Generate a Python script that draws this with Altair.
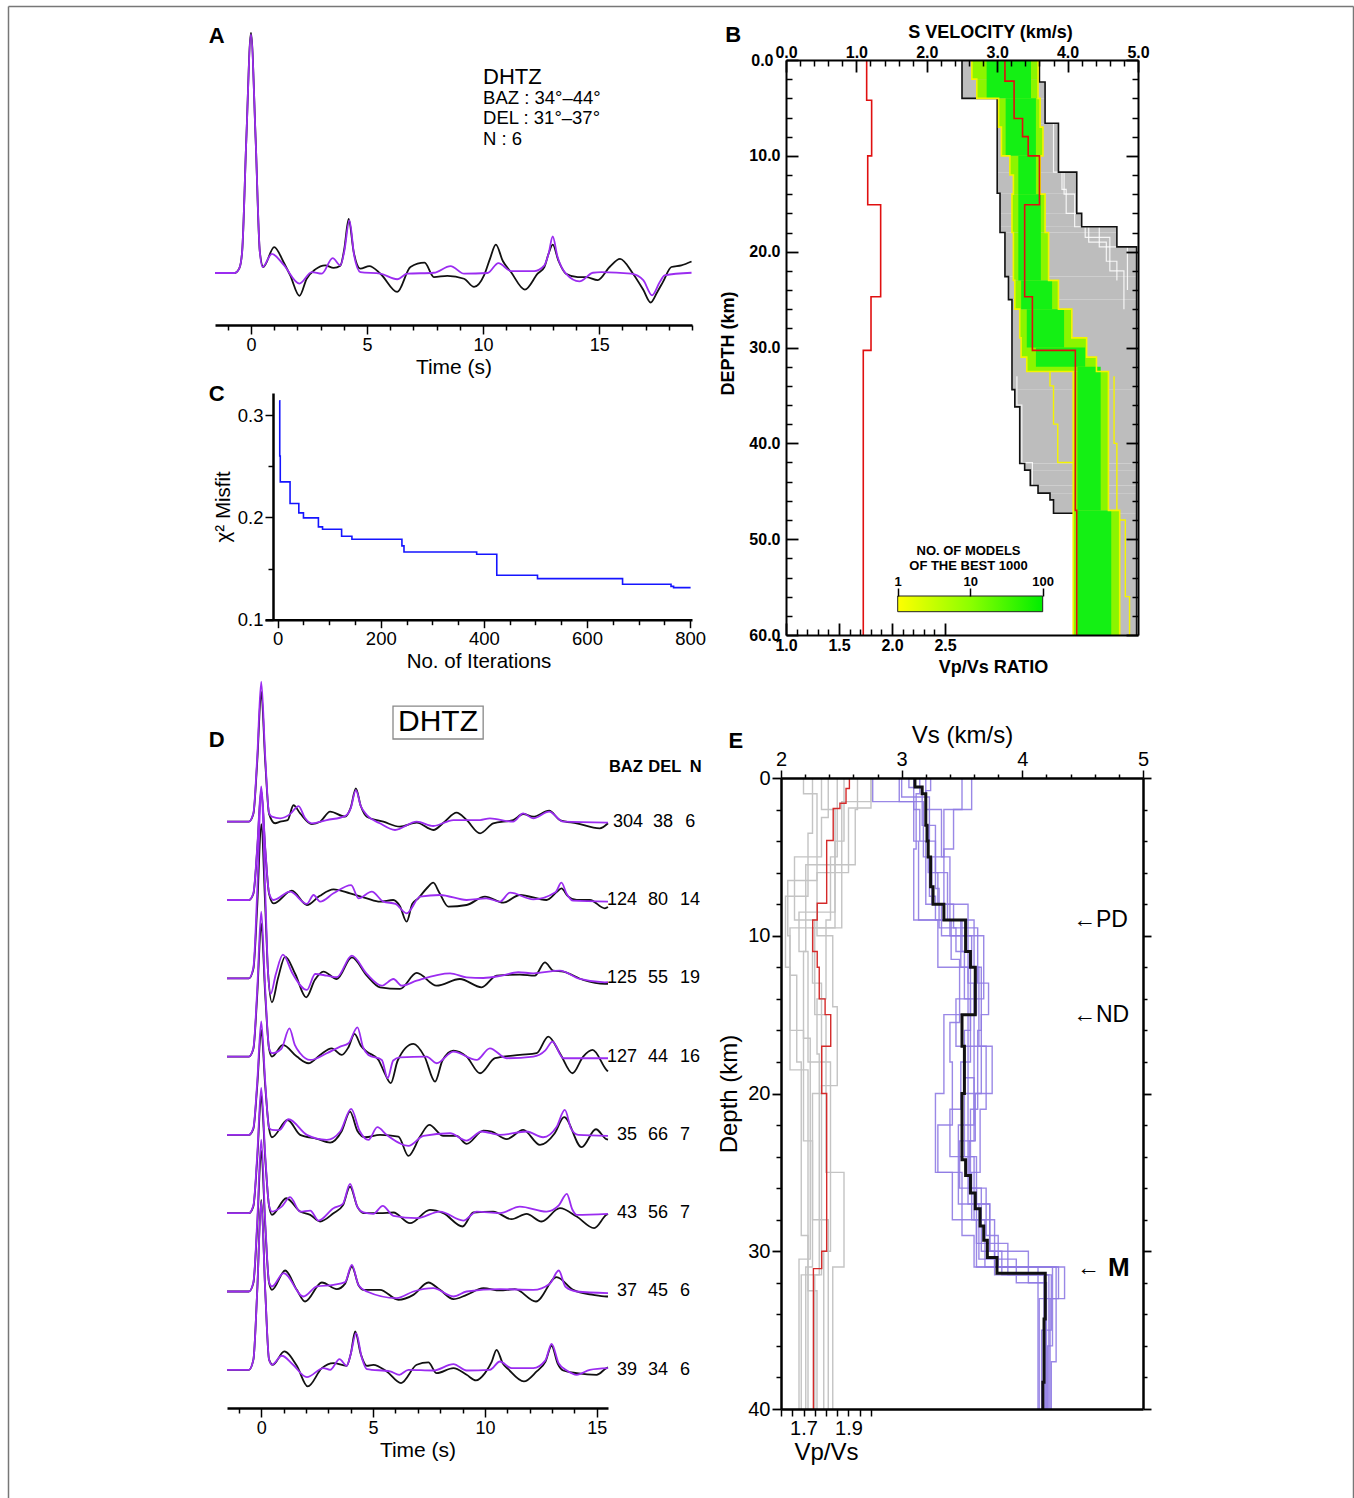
import altair as alt
import pandas as pd

FONT = "Liberation Sans"
W, H = 1345, 1492


def px(x):
    return x - 8


def py(y):
    return y - 6


def sc(dom, r0, r1, horiz=True, typ=None):
    rng = [px(r0), px(r1)] if horiz else [py(r0), py(r1)]
    if typ:
        return alt.Scale(type=typ, domain=dom, range=rng, nice=False)
    return alt.Scale(domain=dom, range=rng, nice=False, zero=False)


# ---------------- scales (panel placement) ----------------
A_X = sc([-1.55, 19.0], 215, 692)
A_Y = sc([-0.2167, 1.0333], 325, 25, False)
C_X = sc([-24.6, 803.7], 265, 692)
C_Y = sc([0.1, 0.3215], 619.7, 393, False)
B_V = sc([0, 5], 786, 1138)
B_R = sc([1.0, 4.3208], 786, 1138)
B_RA = sc([1.0, 2.5], 786, 945)
B_D = sc([0, 60], 60, 635, False)
CB_X = sc([1, 100], 897.7, 1042.7, typ="log")
CB_Y = sc([0, 1], 611.7, 596, False)
D_X = sc([-1.53, 15.5], 227, 608)
D_Y = sc([-7.488, 2.065], 1408, 660, False)
E_V = sc([2, 5], 781, 1143)
E_R = sc([1.6, 3.2089], 781, 1143)
E_RA = sc([1.6, 2.0], 781, 871)
E_D = sc([0, 40], 778, 1409, False)
F_X = sc([0, 1], 8, 1353)
F_Y = sc([0, 1], 6, 1498, False)

# ---------------- data ----------------
# Panel A: stacked receiver function (time s, amplitude)
A_OBS = [(-1.55, 0), (-0.7, 0), (-0.5, 0.02), (-0.38, 0.09), (-0.2, 0.56), (0, 1.0), (0.2, 0.56), (0.38, 0.09),
         (0.53, 0.025), (1.0, 0.108), (1.4, 0.046), (1.69, -0.01), (2.09, -0.095), (2.4, -0.024), (2.77, 0.015),
         (3.2, 0.032), (3.56, 0.021), (3.85, 0.03), (4.02, 0.1), (4.21, 0.225), (4.42, 0.09), (4.71, 0.018),
         (5.1, 0.029), (5.58, -0.003), (6.3, -0.079), (6.87, 0.025), (7.48, 0.043), (7.88, -0.017), (8.46, -0.012),
         (9.18, -0.024), (9.61, -0.058), (10.04, -0.01), (10.3, 0.06), (10.55, 0.118), (10.85, 0.05), (11.2, 0.004),
         (11.8, -0.069), (12.35, -0.003), (12.64, 0.025), (12.82, 0.08), (13.0, 0.118), (13.25, 0.05), (13.57, -0.003),
         (14.08, -0.017), (14.44, -0.017), (14.94, -0.03), (15.45, 0.025), (15.9, 0.059), (16.46, -0.003),
         (16.9, -0.07), (17.22, -0.123), (17.5, -0.08), (17.75, -0.037), (18.11, 0.025), (18.54, 0.032), (18.98, 0.048)]
A_SYN = [(-1.55, 0), (-0.7, 0), (-0.5, 0.02), (-0.38, 0.09), (-0.2, 0.56), (0, 0.993), (0.2, 0.56), (0.38, 0.09),
         (0.5, 0.025), (0.9, 0.08), (1.4, 0.035), (2.09, -0.044), (2.62, 0.004), (3.05, -0.003), (3.52, 0.062),
         (3.85, 0.032), (4.02, 0.09), (4.24, 0.219), (4.45, 0.07), (4.71, 0.004), (5.58, -0.003), (6.3, -0.026),
         (6.73, -0.003), (7.88, 0.001), (8.6, 0.029), (9.18, -0.003), (10.19, 0), (10.66, 0.041), (11.2, 0.008),
         (12.2, 0.008), (12.64, 0.032), (12.82, 0.08), (13.0, 0.152), (13.2, 0.07), (13.57, -0.003), (14.15, -0.035),
         (14.73, 0.001), (15.09, 0.004), (16.38, -0.003), (16.9, -0.03), (17.28, -0.093), (17.6, -0.04),
         (17.82, -0.01), (18.98, 0.001)]
A_INFO = ["DHTZ", "BAZ : 34°–44°", "DEL : 31°–37°", "N : 6"]
A_INFO_Y = [0.817, 0.729, 0.646, 0.558]
A_INFO_FS = [22, 18.5, 18.5, 18.5]

# Panel C: misfit vs iteration
C_ITER = [3, 4, 5, 24, 41, 50, 79, 87, 124, 144, 241, 245, 386, 425, 504, 669, 763, 768, 801]
C_MISFIT = [0.314, 0.26, 0.2347, 0.2135, 0.2044, 0.1995, 0.1907, 0.1884, 0.1815, 0.1786, 0.1721, 0.1662,
            0.1639, 0.1434, 0.1401, 0.1346, 0.1326, 0.1313, 0.1313]

# Panel B: model ensemble (depth top, depth bottom, vmin, vmax)
B_GRAY = [(0, 2.3, 2.50, 3.60), (2.3, 4, 2.50, 3.68), (4, 6.6, 3.00, 3.68), (6.6, 11.7, 3.00, 3.87),
          (11.7, 13.9, 3.00, 4.13), (13.9, 16, 3.04, 4.13), (16, 17.4, 3.04, 4.20), (17.4, 18, 3.04, 4.70),
          (18, 19.5, 3.11, 4.70), (19.5, 22.6, 3.11, 4.98), (22.6, 25, 3.16, 4.98), (25, 34.4, 3.21, 4.98),
          (34.4, 36.2, 3.25, 4.98), (36.2, 42.1, 3.32, 4.98), (42.1, 42.8, 3.39, 4.98), (42.8, 44.4, 3.47, 4.98),
          (44.4, 45.2, 3.58, 4.98), (45.2, 45.9, 3.75, 4.98), (45.9, 47.3, 3.80, 4.98), (47.3, 60, 4.08, 4.98)]
B_GRAY_LEFT = [(0, 4, 2.50), (4, 13.9, 3.00), (13.9, 18, 3.04), (18, 22.6, 3.11), (22.6, 25, 3.16),
               (25, 34.4, 3.21), (34.4, 36.2, 3.25), (36.2, 42.1, 3.32), (42.1, 42.8, 3.39), (42.8, 44.4, 3.47),
               (44.4, 45.2, 3.58), (45.2, 45.9, 3.75), (45.9, 47.3, 3.80), (47.3, 47.3, 4.08)]
B_GRAY_RIGHT = [(0, 2.3, 3.60), (2.3, 6.6, 3.68), (6.6, 11.7, 3.87), (11.7, 16, 4.13), (16, 17.4, 4.20),
                (17.4, 19.5, 4.70), (19.5, 60, 4.98)]
# white model edges seen inside the grey envelope
B_WHITE = [
    [(6.6, 11.7, 3.80), (11.7, 14, 3.95), (14, 17.4, 4.10), (17.4, 19.5, 4.45), (19.5, 24, 4.85)],
    [(11.7, 13.5, 3.92), (13.5, 16, 3.98), (16, 18.5, 4.25), (18.5, 22, 4.60), (22, 26, 4.80)],
    [(17.4, 19, 4.30), (19, 21, 4.55), (21, 23, 4.70)],
    [(33, 36, 3.28), (36, 42, 3.35), (42, 46, 3.50), (46, 47.3, 3.60)],
]
B_BAND = [(0, 2, 2.64, 3.58), (2, 4, 2.71, 3.58), (4, 7, 3.02, 3.61), (7, 10, 3.06, 3.65), (10, 12, 3.18, 3.61),
          (12, 14, 3.23, 3.61), (14, 18, 3.21, 3.68), (18, 23, 3.23, 3.73), (23, 26, 3.25, 3.87),
          (26, 29, 3.32, 4.06), (29, 31, 3.34, 4.27), (31, 32.5, 3.42, 4.41), (32.5, 47, 4.08, 4.58),
          (47, 60, 4.08, 4.74)]
B_CORE = [(0, 4, 2.85, 3.48), (4, 10, 3.12, 3.55), (10, 14, 3.30, 3.55), (14, 23, 3.30, 3.62),
          (23, 26, 3.34, 3.78), (26, 30, 3.42, 3.95), (30, 32, 3.55, 4.25), (32, 47, 4.14, 4.47),
          (47, 60, 4.14, 4.62)]
B_YELLOW_EXTRA = [
    [(31.5, 34, 3.75), (34, 38, 3.80), (38, 42, 3.86), (42, 42, 4.08)],
    [(33, 40, 4.66), (40, 48, 4.70), (48, 56, 4.82), (56, 60, 4.88)],
]
B_BEST_VS = [(0, 2.2, 3.11), (2.2, 6.1, 3.24), (6.1, 8.0, 3.36), (8.0, 10.0, 3.44), (10.0, 15.1, 3.60),
             (15.1, 24.7, 3.39), (24.7, 30.3, 3.50), (30.3, 47, 4.11), (47, 60, 4.13)]
B_BEST_VPVS = [(0, 4.2, 1.761), (4.2, 10, 1.808), (10, 15.1, 1.771), (15.1, 24.7, 1.893), (24.7, 30.3, 1.802),
               (30.3, 60, 1.729)]
CB_TICKS = [1, 10, 100]

# Panel D: individual bins (time s, amplitude in trace-spacing units)
D_BAZ = ["304", "124", "125", "127", "35", "43", "37", "39"]
D_DEL = ["38", "80", "55", "44", "66", "56", "45", "34"]
D_N = ["6", "14", "19", "16", "7", "7", "6", "6"]
D_BAZ_T = [17.07, 16.80, 16.80, 16.80, 16.80, 16.80, 16.80, 16.80]
D_DEL_T = [17.96, 17.74, 17.74, 17.74, 17.74, 17.74, 17.74, 17.74]
D_N_T = [18.95, 18.72, 18.72, 18.72, 18.72, 18.72, 18.72, 18.72]
D_OBS = [
    [(-1.53, 0), (-0.55, 0), (-0.35, 0.10), (-0.18, 0.76), (0, 1.66), (0.18, 0.76), (0.35, 0.10), (0.62, -0.02),
     (0.85, 0.0), (1.18, 0.02), (1.44, 0.21), (1.74, 0.106), (2.26, -0.03), (2.63, 0.0), (3.08, 0.128),
     (3.75, 0.064), (4.0, 0.18), (4.23, 0.426), (4.45, 0.2), (4.72, 0.064), (5.46, 0.0), (6.2, -0.064),
     (6.95, -0.013), (7.69, -0.106), (8.2, 0.0), (8.73, 0.115), (9.18, 0.021), (9.78, -0.149), (10.37, -0.021),
     (11.26, 0.021), (11.71, 0.098), (12.16, 0.064), (12.87, 0.14), (13.35, 0.021), (14.1, -0.021),
     (15.13, -0.085), (15.5, -0.02)],
    [(-1.53, 0), (-0.55, 0), (-0.35, 0.08), (-0.18, 0.64), (0, 1.40), (0.18, 0.64), (0.35, 0.08), (0.55, -0.043),
     (1.37, 0.119), (2.04, -0.064), (2.6, 0.05), (3.23, 0.136), (3.97, 0.085), (4.72, 0.021), (5.31, -0.021),
     (5.9, 0.0), (6.2, -0.08), (6.5, -0.277), (6.75, -0.05), (7.02, 0.021), (7.4, 0.15), (7.69, 0.221),
     (7.95, 0.1), (8.36, -0.085), (9.18, -0.064), (10.0, 0.043), (10.82, -0.034), (11.56, 0.064), (12.75, 0.0),
     (13.2, 0.1), (13.42, 0.149), (13.7, 0.05), (14.1, 0.0), (14.69, 0.0), (15.36, -0.106), (15.5, -0.09)],
    [(-1.53, 0), (-0.55, 0), (-0.35, 0.12), (-0.18, 0.91), (0, 1.97), (0.18, 0.91), (0.3, 0.1), (0.48, -0.306),
     (0.75, 0.0), (1.07, 0.277), (1.52, 0.055), (2.01, -0.243), (2.4, -0.02), (2.78, 0.085), (3.38, -0.009),
     (4.05, 0.268), (4.72, 0.034), (5.31, -0.115), (6.2, -0.136), (6.95, 0.068), (7.84, -0.094), (8.88, -0.009),
     (9.85, -0.115), (10.52, 0.034), (11.56, 0.047), (12.23, 0.034), (12.68, 0.204), (13.05, 0.098),
     (13.5, 0.085), (14.39, -0.021), (15.36, -0.072), (15.5, -0.07)],
    [(-1.53, 0), (-0.55, 0), (-0.35, 0.10), (-0.18, 0.78), (0, 1.70), (0.18, 0.78), (0.35, 0.10), (0.48, 0.0),
     (0.97, 0.149), (1.59, 0.0), (2.11, -0.085), (2.63, 0.021), (3.15, 0.106), (3.6, 0.021), (3.9, 0.12),
     (4.17, 0.289), (4.45, 0.14), (4.72, 0.064), (5.24, -0.043), (5.5, -0.2), (5.79, -0.34), (6.1, -0.05),
     (6.8, 0.162), (7.3, 0.0), (7.77, -0.32), (8.1, -0.05), (8.59, 0.077), (9.18, 0.0), (9.78, -0.213),
     (10.45, -0.021), (11.56, 0.021), (12.31, 0.043), (12.83, 0.255), (13.35, 0.043), (13.91, -0.213),
     (14.39, 0.0), (14.81, 0.085), (15.43, -0.17), (15.5, -0.19)],
    [(-1.53, 0), (-0.55, 0), (-0.35, 0.08), (-0.18, 0.62), (0, 1.34), (0.18, 0.62), (0.35, 0.08), (0.48, -0.03),
     (1.18, 0.19), (1.74, 0.0), (2.49, -0.05), (3.08, -0.098), (3.6, 0.05), (3.97, 0.298), (4.3, 0.05),
     (4.64, -0.03), (5.31, 0.0), (6.13, -0.021), (6.58, -0.268), (7.1, -0.021), (7.51, 0.128), (8.14, -0.013),
     (8.73, -0.013), (9.18, -0.115), (9.93, 0.055), (10.3, 0.043), (10.97, -0.055), (11.71, 0.064),
     (12.46, -0.128), (13.12, 0.021), (13.54, 0.226), (14.32, -0.157), (14.96, 0.072), (15.43, -0.055),
     (15.5, -0.06)],
    [(-1.53, 0), (-0.55, 0), (-0.35, 0.09), (-0.18, 0.69), (0, 1.50), (0.18, 0.69), (0.35, 0.09), (0.48, -0.021),
     (1.12, 0.191), (1.74, 0.021), (2.19, -0.021), (2.63, -0.106), (3.23, 0.0), (3.65, 0.1), (3.97, 0.34),
     (4.3, 0.08), (4.57, 0.0), (5.31, 0.0), (5.91, 0.009), (6.65, -0.128), (7.54, 0.043), (8.14, 0.0),
     (9.0, -0.17), (9.48, 0.009), (10.37, 0.021), (11.19, -0.077), (11.86, -0.009), (12.53, -0.106),
     (13.35, 0.064), (14.1, -0.043), (14.88, -0.191), (15.43, -0.021), (15.5, -0.01)],
    [(-1.53, 0), (-0.55, 0), (-0.35, 0.11), (-0.18, 0.83), (0, 1.80), (0.18, 0.83), (0.35, 0.11), (0.48, 0.021),
     (1.07, 0.268), (1.59, 0.021), (1.96, -0.128), (2.71, 0.115), (3.38, 0.03), (3.75, 0.1), (4.05, 0.319),
     (4.35, 0.08), (4.57, 0.021), (5.31, 0.021), (6.13, -0.106), (6.8, -0.043), (7.47, 0.115), (7.99, 0.021),
     (8.59, -0.098), (9.18, -0.043), (9.93, 0.043), (10.67, 0.013), (11.34, 0.03), (12.28, -0.128),
     (13.2, 0.183), (13.94, 0.021), (14.84, -0.043), (15.43, -0.064), (15.5, -0.064)],
    [(-1.53, 0), (-0.55, 0), (-0.35, 0.13), (-0.18, 1.00), (0, 2.17), (0.18, 1.00), (0.35, 0.13), (0.52, 0.064),
     (1.03, 0.234), (1.59, 0.051), (2.08, -0.213), (2.71, 0.021), (3.23, 0.085), (3.82, 0.051), (4.0, 0.2),
     (4.2, 0.489), (4.45, 0.2), (4.72, 0.051), (5.01, 0.064), (5.61, -0.021), (6.25, -0.17), (6.95, 0.064),
     (7.47, 0.094), (7.84, -0.043), (8.59, 0.021), (9.18, -0.064), (9.6, -0.136), (10.0, -0.043), (10.3, 0.1),
     (10.52, 0.255), (10.8, 0.08), (11.04, 0.009), (11.74, -0.149), (12.31, -0.021), (12.7, 0.1),
     (12.98, 0.306), (13.25, 0.08), (13.5, -0.009), (14.1, -0.043), (14.99, -0.064), (15.43, 0.021),
     (15.5, 0.03)],
]
D_SYN = [
    [(-1.53, 0), (-0.55, 0), (-0.35, 0.11), (-0.18, 0.82), (0, 1.79), (0.18, 0.82), (0.35, 0.11), (0.48, 0.064),
     (0.85, 0.043), (1.3, 0.1), (1.67, 0.2), (1.95, 0.05), (2.26, -0.021), (2.93, 0.021), (3.75, 0.072),
     (4.0, 0.17), (4.23, 0.404), (4.45, 0.2), (4.72, 0.085), (5.3, -0.02), (5.98, -0.106), (6.95, 0.0),
     (7.69, -0.055), (8.59, 0.021), (9.78, 0.021), (10.22, 0.043), (11.26, 0.0), (11.71, 0.106), (12.16, 0.043),
     (12.87, 0.128), (13.5, 0.0), (15.5, -0.013)],
    [(-1.53, 0), (-0.55, 0), (-0.35, 0.09), (-0.18, 0.67), (0, 1.45), (0.18, 0.67), (0.35, 0.09), (0.55, 0.0),
     (1.29, 0.106), (2.04, -0.05), (2.34, 0.064), (2.63, -0.021), (3.23, 0.085), (4.02, 0.191), (4.35, 0.021),
     (4.94, 0.106), (5.46, -0.021), (6.0, -0.05), (6.5, -0.17), (7.1, 0.043), (7.99, 0.064), (9.18, 0.0),
     (10.07, 0.021), (10.67, -0.021), (11.12, 0.094), (12.16, 0.009), (13.15, 0.1), (13.42, 0.221),
     (13.65, 0.08), (13.94, -0.009), (15.5, -0.021)],
    [(-1.53, 0), (-0.55, 0), (-0.35, 0.14), (-0.18, 1.10), (0, 2.40), (0.18, 1.10), (0.3, 0.1), (0.42, -0.2),
     (0.65, 0.05), (0.97, 0.302), (1.4, 0.06), (2.04, -0.149), (2.41, 0.055), (2.93, 0.034), (3.38, 0.013),
     (4.05, 0.289), (4.72, 0.055), (5.39, -0.094), (5.91, -0.009), (6.28, -0.094), (6.95, -0.03), (8.44, 0.064),
     (9.18, 0.013), (9.93, 0.004), (10.74, 0.034), (11.49, 0.077), (12.16, 0.064), (13.35, 0.098),
     (14.24, -0.009), (15.36, -0.051), (15.5, -0.05)],
    [(-1.53, 0), (-0.55, 0), (-0.35, 0.11), (-0.18, 0.85), (0, 1.85), (0.18, 0.85), (0.35, 0.11), (0.48, 0.043),
     (0.9, 0.1), (1.26, 0.36), (1.5, 0.15), (1.74, 0.043), (2.19, -0.043), (2.93, 0.043), (3.53, 0.128),
     (3.9, 0.17), (4.3, 0.374), (4.55, 0.12), (4.79, 0.021), (5.39, -0.043), (5.65, -0.277), (5.9, -0.05),
     (6.2, -0.009), (7.39, 0.0), (7.84, -0.085), (8.59, 0.064), (9.63, -0.043), (10.22, 0.106), (10.97, -0.021),
     (12.16, 0.0), (12.7, 0.08), (13.02, 0.191), (13.5, -0.021), (14.39, -0.021), (15.5, -0.021)],
    [(-1.53, 0), (-0.55, 0), (-0.35, 0.09), (-0.18, 0.67), (0, 1.45), (0.18, 0.67), (0.35, 0.09), (0.48, 0.064),
     (0.8, 0.06), (1.22, 0.2), (2.04, 0.0), (2.93, -0.064), (3.53, 0.043), (4.02, 0.332), (4.4, 0.05),
     (4.79, -0.064), (5.19, 0.098), (5.61, 0.0), (6.58, -0.14), (7.25, -0.013), (8.44, 0.021), (9.18, -0.072),
     (9.85, 0.043), (10.67, 0.0), (11.86, 0.043), (12.6, -0.03), (13.2, 0.1), (13.57, 0.319), (13.85, 0.08),
     (14.17, 0.0), (15.5, -0.013)],
    [(-1.53, 0), (-0.55, 0), (-0.35, 0.10), (-0.18, 0.74), (0, 1.60), (0.18, 0.74), (0.35, 0.10), (0.48, 0.021),
     (0.9, 0.08), (1.29, 0.204), (1.74, 0.021), (2.19, 0.034), (2.56, -0.094), (3.23, 0.064), (3.65, 0.12),
     (3.97, 0.374), (4.3, 0.08), (4.57, 0.009), (5.01, -0.009), (5.43, 0.094), (5.91, -0.034), (6.95, -0.064),
     (7.99, 0.021), (9.03, -0.094), (9.63, 0.021), (10.67, 0.0), (11.56, 0.085), (12.75, 0.021), (13.3, 0.1),
     (13.66, 0.247), (13.9, 0.05), (14.1, -0.021), (15.5, -0.009)],
    [(-1.53, 0), (-0.55, 0), (-0.35, 0.12), (-0.18, 0.89), (0, 1.94), (0.18, 0.89), (0.35, 0.12), (0.48, 0.064),
     (1.0, 0.234), (1.89, -0.064), (2.49, 0.064), (3.23, 0.085), (3.75, 0.12), (4.05, 0.34), (4.35, 0.08),
     (4.72, 0.0), (6.06, -0.085), (6.8, 0.0), (7.69, 0.043), (8.59, -0.064), (9.18, 0.0), (10.67, 0.03),
     (12.16, 0.021), (12.9, 0.1), (13.3, 0.268), (13.6, 0.06), (14.1, 0.0), (15.5, -0.021)],
    [(-1.53, 0), (-0.55, 0), (-0.35, 0.13), (-0.18, 1.00), (0, 2.15), (0.18, 1.00), (0.35, 0.13), (0.48, 0.064),
     (0.92, 0.179), (1.4, 0.07), (2.04, -0.094), (2.78, 0.021), (3.08, 0.0), (3.5, 0.136), (3.82, 0.051),
     (4.0, 0.2), (4.24, 0.468), (4.5, 0.15), (4.72, 0.009), (5.76, -0.021), (6.17, -0.064), (6.58, 0.0),
     (7.69, -0.009), (8.59, 0.072), (9.18, -0.009), (10.22, 0.0), (10.67, 0.106), (11.19, 0.021), (12.16, 0.021),
     (12.7, 0.12), (12.98, 0.332), (13.3, 0.08), (13.66, -0.009), (14.1, -0.064), (14.69, 0.0), (15.5, 0.021)],
]

# Panel E: final models (depth top, depth bottom, value)
E_BEST_VS = [(0, 0.57, 3.11), (0.57, 1.0, 3.17), (1.0, 3.0, 3.20), (3.0, 4.0, 3.21), (4.0, 5.0, 3.22),
             (5.0, 6.9, 3.24), (6.9, 8.0, 3.26), (8.0, 9.0, 3.35), (9.0, 11.0, 3.53), (11.0, 12.0, 3.57),
             (12.0, 15.0, 3.61), (15.0, 17.0, 3.50), (17.0, 20.0, 3.52), (20.0, 24.2, 3.50), (24.2, 25.2, 3.53),
             (25.2, 26.3, 3.57), (26.3, 27.3, 3.61), (27.3, 28.4, 3.65), (28.4, 29.3, 3.68), (29.3, 30.4, 3.71),
             (30.4, 31.4, 3.79), (31.4, 34.3, 4.19), (34.3, 38.3, 4.18), (38.3, 40, 4.17)]
E_BEST_VPVS = [(0, 0.67, 1.904), (0.67, 1.6, 1.889), (1.6, 1.93, 1.862), (1.93, 3.96, 1.832), (3.96, 7.94, 1.803),
               (7.94, 9.0, 1.761), (9.0, 11.0, 1.741), (11.0, 12.0, 1.761), (12.0, 14.0, 1.77), (14.0, 15.0, 1.796),
               (15.0, 17.0, 1.821), (17.0, 20.0, 1.781), (20.0, 30.0, 1.803), (30.0, 31.1, 1.781), (31.1, 40, 1.744)]
E_VPVS_MODELS = [
    [(0, 2.0, 1.94), (2.0, 5.5, 1.93), (5.5, 11.0, 1.71), (11.0, 16.5, 1.70), (16.5, 30.5, 1.73), (30.5, 40, 1.68)],
    [(0, 1.5, 2.00), (1.5, 9.5, 1.87), (9.5, 12.5, 1.64), (12.5, 18.0, 1.67), (18.0, 29.0, 1.69), (29.0, 40, 1.72)],
    [(0, 1.9, 2.00), (1.9, 6.0, 1.90), (6.0, 10.0, 1.76), (10.0, 14.5, 1.83), (14.5, 19.5, 1.85),
     (19.5, 31.5, 1.78), (31.5, 40, 1.75)],
    [(0, 3.5, 1.74), (3.5, 7.5, 1.72), (7.5, 12.0, 1.62), (12.0, 18.5, 1.64), (18.5, 32.5, 1.72), (32.5, 40, 1.76)],
    [(0, 2.5, 1.81), (2.5, 5.0, 1.78), (5.0, 9.0, 1.66), (9.0, 15.0, 1.75), (15.0, 25.0, 1.80), (25.0, 31.0, 1.88),
     (31.0, 40, 1.83)],
    [(0, 4.0, 1.88), (4.0, 8.5, 1.84), (8.5, 11.0, 1.68), (11.0, 18.0, 1.72), (18.0, 30.0, 1.82), (30.0, 40, 1.79)],
    [(0, 1.0, 1.70), (1.0, 6.5, 1.76), (6.5, 10.0, 1.63), (10.0, 16.0, 1.64), (16.0, 23.0, 1.70), (23.0, 31.0, 1.74),
     (31.0, 40, 1.71)],
    [(0, 5.0, 1.85), (5.0, 9.0, 1.82), (9.0, 14.0, 1.80), (14.0, 17.5, 1.76), (17.5, 31.5, 1.77), (31.5, 40, 1.69)],
    [(0, 2.0, 1.78), (2.0, 9.5, 1.84), (9.5, 13.0, 1.74), (13.0, 20.0, 1.78), (20.0, 28.0, 1.74), (28.0, 40, 1.81)],
]
E_VS_MODELS = [
    [(0, 2, 3.58), (2, 4.5, 3.43), (4.5, 9, 3.35), (9, 12, 3.60), (12, 16, 3.66), (16, 21, 3.63), (21, 26, 3.57),
     (26, 30, 3.66), (30, 31.5, 3.83), (31.5, 40, 4.22)],
    [(0, 1.5, 2.76), (1.5, 4, 3.10), (4, 9, 3.14), (9, 12, 3.30), (12, 15, 3.55), (15, 20, 3.35), (20, 25, 3.28),
     (25, 29, 3.50), (29, 31, 3.60), (31, 33, 4.30), (33, 40, 4.14)],
    [(0, 0.6, 3.06), (0.6, 3, 3.17), (3, 6, 3.28), (6, 8, 3.30), (8, 10, 3.55), (10, 14, 3.68), (14, 17, 3.45),
     (17, 22, 3.60), (22, 27, 3.47), (27, 30, 3.73), (30, 32, 4.05), (32, 40, 4.20)],
    [(0, 1.2, 3.00), (1.2, 4, 3.23), (4, 7, 3.28), (7, 9.5, 3.31), (9.5, 11, 3.45), (11, 16, 3.57), (16, 19, 3.52),
     (19, 24, 3.55), (24, 28, 3.60), (28, 31, 3.69), (31, 36, 4.25), (36, 40, 4.21)],
    [(0, 2, 3.20), (2, 5, 3.33), (5, 8, 3.40), (8, 9.5, 3.43), (9.5, 13, 3.63), (13, 15, 3.72), (15, 20, 3.66),
     (20, 23, 3.61), (23, 26, 3.56), (26, 29, 3.70), (29, 31, 3.80), (31, 37, 4.28), (37, 40, 4.24)],
    [(0, 1, 3.15), (1, 4.5, 3.12), (4.5, 9, 3.10), (9, 11.5, 3.41), (11.5, 15.5, 3.48), (15.5, 18, 3.40),
     (18, 22, 3.42), (22, 25, 3.30), (25, 28, 3.42), (28, 31, 3.62), (31, 40, 4.13)],
    [(0, 2, 3.50), (2, 5, 3.35), (5, 8, 3.25), (8, 10, 3.40), (10, 13, 3.55), (13, 17, 3.60), (17, 21, 3.70),
     (21, 25, 3.65), (25, 28, 3.58), (28, 31.5, 3.77), (31.5, 40, 4.18)],
    [(0, 0.8, 3.24), (0.8, 3, 3.20), (3, 6, 3.22), (6, 9, 3.38), (9, 11, 3.50), (11, 14, 3.52), (14, 18, 3.57),
     (18, 21, 3.49), (21, 24, 3.40), (24, 27, 3.55), (27, 30.5, 3.64), (30.5, 32, 3.95), (32, 40, 4.19)],
    [(0, 1.5, 2.98), (1.5, 5, 3.18), (5, 7.5, 3.23), (7.5, 9, 3.28), (9, 12, 3.49), (12, 15, 3.62), (15, 19, 3.55),
     (19, 23, 3.60), (23, 26, 3.48), (26, 29.5, 3.62), (29.5, 31.5, 3.88), (31.5, 35, 4.24), (35, 40, 4.16)],
    [(0, 2, 3.10), (2, 4, 3.15), (4, 8, 3.20), (8, 10, 3.33), (10, 12, 3.58), (12, 17, 3.64), (17, 20, 3.75),
     (20, 24, 3.52), (24, 27, 3.62), (27, 30, 3.73), (30, 31, 3.77), (31, 33, 4.35), (33, 40, 4.23)],
]
E_NOTES = ["←PD", "←ND"]
E_NOTES_D = [9.0, 15.0]

# ---------------- colours ----------------
BLK = "#111111"
PUR = "#9b2cf0"
BLUE = "#1515ff"
RED = "#e01010"

# ---------------- helpers ----------------
BASE = dict(grid=False, labelFont=FONT, titleFont=FONT, labelColor="black", titleColor="black",
            tickColor="black", domainColor="black", labelOverlap=False, labelFlush=False, zindex=3,
            title=None, titleFontWeight="normal")


def ax_layer(ch, vals, scale, **kw):
    a = dict(BASE)
    a["values"] = list(vals)
    a.update(kw)
    df = pd.DataFrame({"v": vals})
    if ch == "x":
        enc = dict(x=alt.X("v:Q", scale=scale, axis=alt.Axis(**a)), y=alt.value(0))
    else:
        enc = dict(y=alt.Y("v:Q", scale=scale, axis=alt.Axis(**a)), x=alt.value(0))
    return alt.Chart(df).mark_point(opacity=0).encode(**enc)


def ticks_only(ch, vals, scale, orient, offset, size, width=1.5):
    return ax_layer(ch, vals, scale, orient=orient, offset=offset, tickSize=size, tickWidth=width,
                    labels=False, domain=False)


def step_rows(layers, model=0):
    rows = []
    k = 0
    for (t, b, v) in layers:
        rows.append({"d": t, "v": v, "i": k, "m": model})
        rows.append({"d": b, "v": v, "i": k + 1, "m": model})
        k += 2
    return rows


def step_lines(models, xscale, yscale, color, width, opacity=1.0):
    rows = []
    for j, m in enumerate(models):
        rows += step_rows(m, j)
    df = pd.DataFrame(rows)
    return alt.Chart(df).mark_line(color=color, strokeWidth=width, opacity=opacity).encode(
        x=alt.X("v:Q", scale=xscale, axis=None),
        y=alt.Y("d:Q", scale=yscale, axis=None),
        detail="m:N", order=alt.Order("i:Q"))


def rects(table, xscale, yscale, color):
    df = pd.DataFrame(table, columns=["top", "bot", "lo", "hi"])
    return alt.Chart(df).mark_rect(color=color).encode(
        x=alt.X("lo:Q", scale=xscale, axis=None), x2="hi:Q",
        y=alt.Y("top:Q", scale=yscale, axis=None), y2="bot:Q")


def text_layer(texts, xs, ys, xscale, yscale, size, weight="normal", align="left", baseline="middle"):
    df = pd.DataFrame({"x": xs, "y": ys, "s": texts})
    return alt.Chart(df).mark_text(font=FONT, fontSize=size, fontWeight=weight, align=align,
                                   baseline=baseline, color="black").encode(
        x=alt.X("x:Q", scale=xscale, axis=None), y=alt.Y("y:Q", scale=yscale, axis=None), text="s:N")


layers = []

# ---------------- figure border ----------------
layers.append(ax_layer("y", [0, 1], F_Y, orient="left", offset=0, ticks=False, labels=False,
                       domainColor="#777777", domainWidth=1.5))
layers.append(ax_layer("x", [0, 1], F_X, orient="top", offset=0, ticks=False, labels=False,
                       domainColor="#777777", domainWidth=1.5))
layers.append(ax_layer("y", [0, 1], F_Y, orient="right", offset=0, ticks=False, labels=False,
                       domainColor="#777777", domainWidth=1.5))

# ---------------- Panel A ----------------
dfA = pd.DataFrame([{"t": t, "a": a, "k": "obs"} for t, a in A_OBS] +
                   [{"t": t, "a": a, "k": "syn"} for t, a in A_SYN])
for kind, col in [("obs", BLK), ("syn", PUR)]:
    layers.append(alt.Chart(dfA[dfA.k == kind]).mark_line(color=col, strokeWidth=1.8, interpolate="monotone")
                  .encode(x=alt.X("t:Q", scale=A_X, axis=None), y=alt.Y("a:Q", scale=A_Y, axis=None)))
layers.append(ax_layer("x", [0, 5, 10, 15], A_X, orient="bottom", offset=py(325) - H, tickSize=9, tickWidth=1.5,
                       labelFontSize=18, labelPadding=2, domainWidth=2.5, title="Time (s)", titleFontSize=21,
                       titlePadding=2))
layers.append(ticks_only("x", [-1, 1, 2, 3, 4, 6, 7, 8, 9, 11, 12, 13, 14, 16, 17, 18, 19], A_X, "bottom",
                         py(325) - H, 5))
dfAi = pd.DataFrame({"x": [10.0] * 4, "y": A_INFO_Y, "s": A_INFO, "fs": A_INFO_FS})
layers.append(alt.Chart(dfAi).mark_text(font=FONT, align="left", baseline="middle", color="black").encode(
    x=alt.X("x:Q", scale=A_X, axis=None), y=alt.Y("y:Q", scale=A_Y, axis=None), text="s:N",
    size=alt.Size("fs:Q", scale=None)))
layers.append(text_layer(["A"], [-1.48], [0.989], A_X, A_Y, 22, "bold", "center"))

# ---------------- Panel C ----------------
dfC = pd.DataFrame({"it": C_ITER, "mf": C_MISFIT})
layers.append(alt.Chart(dfC).mark_line(color=BLUE, strokeWidth=1.6, interpolate="step-after").encode(
    x=alt.X("it:Q", scale=C_X, axis=None), y=alt.Y("mf:Q", scale=C_Y, axis=None)))
layers.append(ax_layer("x", [0, 200, 400, 600, 800], C_X, orient="bottom", offset=py(619.7) - H, tickSize=8,
                       tickWidth=1.5, labelFontSize=18.5, labelPadding=2, domainWidth=2.5,
                       title="No. of Iterations", titleFontSize=20.5, titlePadding=3))
layers.append(ticks_only("x", [50, 100, 150, 250, 300, 350, 450, 500, 550, 650, 700, 750], C_X, "bottom",
                         py(619.7) - H, 5))
layers.append(ax_layer("y", [0.1, 0.2, 0.3], C_Y, orient="left", offset=-px(273), tickSize=8, tickWidth=1.5,
                       labelFontSize=18.5, labelPadding=2, format=".1f", domainWidth=2.5,
                       title="χ² Misfit", titleFontSize=20.5, titlePadding=4))
layers.append(ticks_only("y", [0.15, 0.25], C_Y, "left", -px(273), 5))
layers.append(text_layer(["C"], [-118.3], [0.3205], C_X, C_Y, 22, "bold", "center"))

# ---------------- Panel B ----------------
layers.append(rects(B_GRAY, B_V, B_D, "#bdbdbd"))
layers.append(step_lines(B_WHITE, B_V, B_D, "white", 1.2, 0.85))
layers.append(step_lines([B_GRAY_LEFT, B_GRAY_RIGHT], B_V, B_D, BLK, 1.6))
layers.append(step_lines(B_YELLOW_EXTRA, B_V, B_D, "#f4f400", 1.4))
layers.append(rects(B_BAND, B_V, B_D, "#8cf500"))
layers.append(rects(B_CORE, B_V, B_D, "#14f014"))
layers.append(step_lines([[(t, b, lo) for t, b, lo, hi in B_BAND], [(t, b, hi) for t, b, lo, hi in B_BAND]],
                         B_V, B_D, "#f4f400", 1.6))
layers.append(step_lines([B_BEST_VS], B_V, B_D, RED, 1.6))
layers.append(step_lines([B_BEST_VPVS], B_R, B_D, RED, 1.6))
# colorbar
dfCB = pd.DataFrame({"lo": [CB_TICKS[0]], "hi": [CB_TICKS[-1]], "y0": [0], "y1": [1]})
layers.append(alt.Chart(dfCB).mark_rect(
    fill={"gradient": "linear", "x1": 0, "x2": 1, "y1": 0, "y2": 0,
          "stops": [{"offset": 0, "color": "#ffff00"}, {"offset": 0.5, "color": "#8cff00"},
                    {"offset": 1, "color": "#00ee00"}]},
    stroke="#222222", strokeWidth=1).encode(
    x=alt.X("lo:Q", scale=CB_X, axis=None), x2="hi:Q",
    y=alt.Y("y0:Q", scale=CB_Y, axis=None), y2="y1:Q"))
layers.append(ax_layer("x", CB_TICKS, CB_X, orient="top", offset=-py(596), tickSize=8, tickWidth=1.5,
                       labelFontSize=13, labelFontWeight="bold", labelPadding=0, domain=False, format="d",
                       title=["NO. OF MODELS", "OF THE BEST 1000"], titleFontSize=13, titleFontWeight="bold",
                       titleX=px(968), titleY=544 - 596, titleBaseline="top", titleAlign="center",
                       titleLineHeight=15.6))
# frame
BFR = dict(ticks=False, labels=False, domainWidth=2)
layers.append(ax_layer("y", [0, 60], B_D, orient="left", offset=-px(786), **BFR))
layers.append(ax_layer("y", [0, 60], B_D, orient="right", offset=px(1138) - W, **BFR))
layers.append(ax_layer("x", [0, 5], B_V, orient="top", offset=-py(60), **BFR))
layers.append(ax_layer("x", [0, 5], B_V, orient="bottom", offset=py(635) - H, **BFR))
# inward ticks
BL = dict(orient="left", offset=-px(798), tickSize=12, tickWidth=1.8, domain=False, labelFontSize=16,
          labelFontWeight="bold", format=".1f")
layers.append(ax_layer("y", [10, 20, 30, 40, 50, 60], B_D, labelPadding=6, title="DEPTH (km)", titleFontSize=18,
                       titleFontWeight="bold", titleX=728 - 798, titleY=py(343), titleAngle=270,
                       titleBaseline="middle", titleAlign="center", **BL))
layers.append(ax_layer("y", [0], B_D, labelPadding=13, **BL))
B_DMIN = [2, 4, 6, 8, 12, 14, 16, 18, 22, 24, 26, 28, 32, 34, 36, 38, 42, 44, 46, 48, 52, 54, 56, 58]
layers.append(ticks_only("y", B_DMIN, B_D, "left", -px(792), 6))
layers.append(ticks_only("y", [0, 10, 20, 30, 40, 50, 60], B_D, "right", px(1126) - W, 12, 1.8))
layers.append(ticks_only("y", B_DMIN, B_D, "right", px(1132) - W, 6))
layers.append(ax_layer("x", [0, 1, 2, 3, 4, 5], B_V, orient="top", offset=-py(72), tickSize=12, tickWidth=1.8,
                       domain=False, labelFontSize=16, labelFontWeight="bold", labelPadding=2.5,
                       labelBaseline="alphabetic", format=".1f", title="S VELOCITY (km/s)", titleFontSize=18,
                       titleFontWeight="bold", titleX=px(990), titleY=32 - 72, titleBaseline="middle",
                       titleAlign="center"))
layers.append(ticks_only("x", [0.2, 0.4, 0.6, 0.8, 1.2, 1.4, 1.6, 1.8, 2.2, 2.4, 2.6, 2.8, 3.2, 3.4, 3.6, 3.8,
                               4.2, 4.4, 4.6, 4.8], B_V, "top", -py(66), 6))
layers.append(ax_layer("x", [1.0, 1.5, 2.0, 2.5], B_RA, orient="bottom", offset=py(623) - H, tickSize=12,
                       tickWidth=1.8, domain=False, labelFontSize=16, labelFontWeight="bold", labelPadding=2,
                       format=".1f", title="Vp/Vs RATIO", titleFontSize=18, titleFontWeight="bold",
                       titleX=px(993), titleY=667 - 623, titleBaseline="middle", titleAlign="center"))
layers.append(ticks_only("x", [1.1, 1.2, 1.3, 1.4, 1.6, 1.7, 1.8, 1.9, 2.1, 2.2, 2.3, 2.4], B_RA, "bottom",
                         py(629) - H, 6))
layers.append(text_layer(["B"], [-0.749], [-2.61], B_V, B_D, 22, "bold", "center"))

# ---------------- Panel D ----------------
rowsD = []
for i, (obs, syn) in enumerate(zip(D_OBS, D_SYN)):
    for t, a in obs:
        rowsD.append({"t": t, "y": a - i, "tr": i, "k": "obs"})
    for t, a in syn:
        rowsD.append({"t": t, "y": a - i, "tr": i, "k": "syn"})
dfD = pd.DataFrame(rowsD)
for kind, col in [("obs", BLK), ("syn", PUR)]:
    layers.append(alt.Chart(dfD[dfD.k == kind]).mark_line(color=col, strokeWidth=1.8, interpolate="monotone")
                  .encode(x=alt.X("t:Q", scale=D_X, axis=None), y=alt.Y("y:Q", scale=D_Y, axis=None),
                          detail="tr:N"))
layers.append(ax_layer("x", [0, 5, 10, 15], D_X, orient="bottom", offset=py(1408) - H, tickSize=9, tickWidth=1.5,
                       labelFontSize=18, labelPadding=2, domainWidth=2.5, title="Time (s)", titleFontSize=21,
                       titlePadding=2))
layers.append(ticks_only("x", [-1, 1, 2, 3, 4, 6, 7, 8, 9, 11, 12, 13, 14], D_X, "bottom", py(1408) - H, 5))
ROWS_Y = [-i for i in range(8)]
layers.append(text_layer(D_BAZ, D_BAZ_T, ROWS_Y, D_X, D_Y, 18, align="right"))
layers.append(text_layer(D_DEL, D_DEL_T, ROWS_Y, D_X, D_Y, 18, align="center"))
layers.append(text_layer(D_N, D_N_T, ROWS_Y, D_X, D_Y, 18, align="left"))
layers.append(text_layer(["BAZ", "DEL", "N"], [16.30, 18.04, 19.42], [0.699] * 3, D_X, D_Y, 16.5, "bold",
                         "center"))
dfBox = pd.DataFrame({"x0": [5.89], "x1": [9.92], "y0": [1.056], "y1": [1.477]})
layers.append(alt.Chart(dfBox).mark_rect(fillOpacity=0, stroke="#888888", strokeWidth=1.3).encode(
    x=alt.X("x0:Q", scale=D_X, axis=None), x2="x1:Q", y=alt.Y("y0:Q", scale=D_Y, axis=None), y2="y1:Q"))
layers.append(text_layer(["DHTZ"], [7.90], [1.273], D_X, D_Y, 30, align="center"))
layers.append(text_layer(["D"], [-1.99], [1.037], D_X, D_Y, 22, "bold", "center"))

# ---------------- Panel E ----------------
layers.append(step_lines(E_VPVS_MODELS, E_R, E_D, "#c4c4c4", 1.4))
layers.append(step_lines(E_VS_MODELS, E_V, E_D, "#8f7be3", 1.4, 0.9))
layers.append(step_lines([E_BEST_VPVS], E_R, E_D, "#d42a2a", 1.4))
layers.append(step_lines([E_BEST_VS], E_V, E_D, BLK, 3))
layers.append(ax_layer("x", [2, 3, 4, 5], E_V, orient="top", offset=-py(778), tickSize=8, tickWidth=1.5,
                       labelFontSize=20, labelPadding=1, domainWidth=2.5, title="Vs (km/s)", titleFontSize=24,
                       titlePadding=2))
layers.append(ticks_only("x", [2.2, 2.4, 2.6, 2.8, 3.2, 3.4, 3.6, 3.8, 4.2, 4.4, 4.6, 4.8], E_V, "top",
                         -py(778), 4))
layers.append(ax_layer("y", [0, 10, 20, 30, 40], E_D, orient="left", offset=-px(781), tickSize=9, tickWidth=1.8,
                       labelFontSize=20, labelPadding=2, domainWidth=2.5, title="Depth (km)", titleFontSize=24,
                       titlePadding=6))
E_DMIN = [2, 4, 6, 8, 12, 14, 16, 18, 22, 24, 26, 28, 32, 34, 36, 38]
layers.append(ticks_only("y", E_DMIN, E_D, "left", -px(781), 5))
layers.append(ax_layer("y", [0, 10, 20, 30, 40], E_D, orient="right", offset=px(1143) - W, tickSize=8,
                       tickWidth=1.8, labels=False, domainWidth=2.5))
layers.append(ticks_only("y", E_DMIN, E_D, "right", px(1143) - W, 4))
layers.append(ax_layer("x", [2, 5], E_V, orient="bottom", offset=py(1409) - H, ticks=False, labels=False,
                       domainWidth=2.5))
layers.append(ticks_only("x", [1.6, 1.65, 1.75, 1.8, 1.85, 1.95, 2.0], E_RA, "bottom", py(1409) - H, 7))
layers.append(ax_layer("x", [1.7, 1.9], E_RA, orient="bottom", offset=py(1409) - H, tickSize=7, tickWidth=1.5,
                       domain=False, labelFontSize=20, labelPadding=2, format=".1f", title="Vp/Vs",
                       titleFontSize=24, titlePadding=2))
layers.append(text_layer(E_NOTES, [4.42, 4.42], E_NOTES_D, E_V, E_D, 23))
layers.append(text_layer(["←"], [4.45], [31.08], E_V, E_D, 23))
layers.append(text_layer(["M"], [4.71], [31.08], E_V, E_D, 26, "bold"))
layers.append(text_layer(["E"], [1.625], [-2.36], E_V, E_D, 22, "bold", "center"))

chart = (alt.layer(*layers)
         .resolve_scale(x="independent", y="independent")
         .resolve_axis(x="independent", y="independent")
         .properties(width=W, height=H, padding={"left": 8, "top": 6, "right": 1, "bottom": 0}, autosize="none",
                     background="white")
         .configure_view(strokeWidth=0))

chart.save("out.html", embed_options={"renderer": "svg", "actions": False})
